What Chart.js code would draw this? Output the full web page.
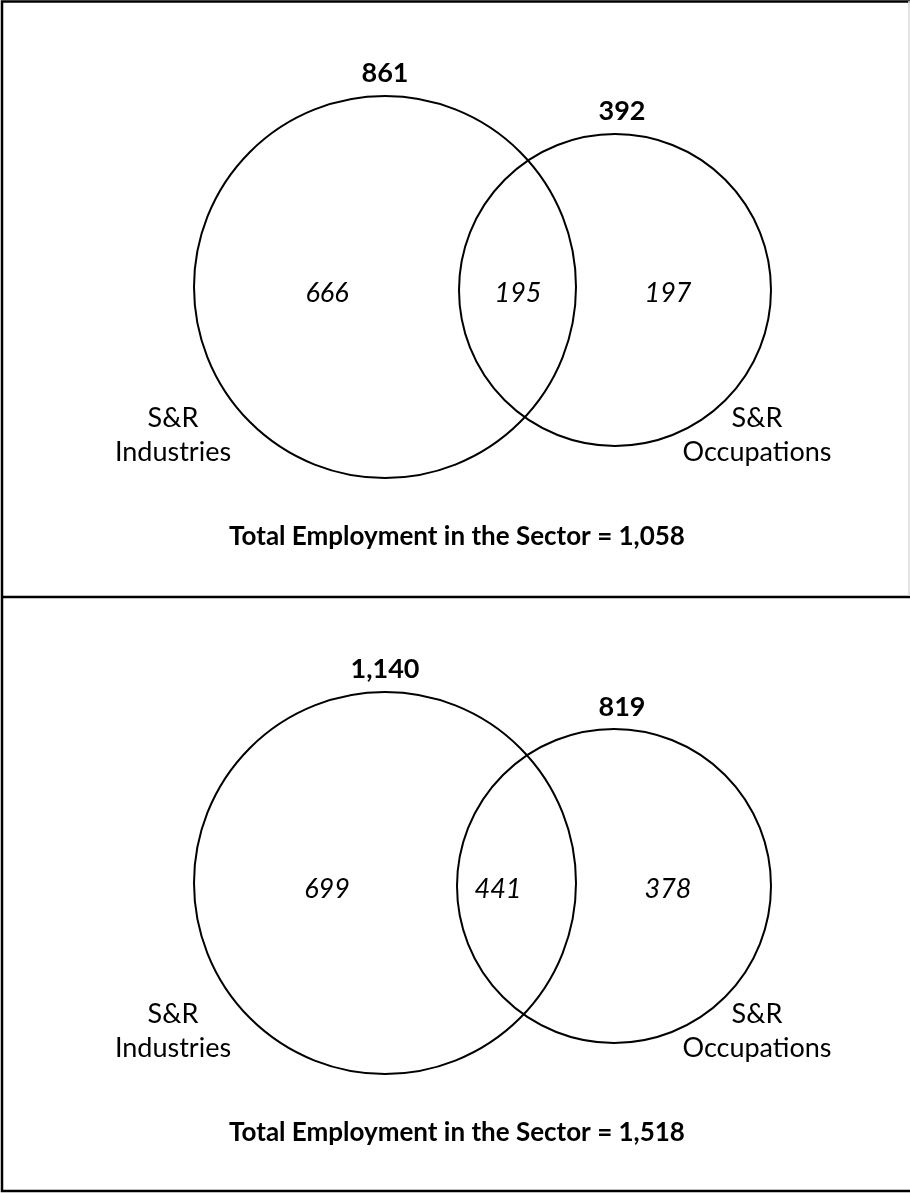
<!DOCTYPE html>
<html>
<head>
<meta charset="utf-8">
<script src="https://cdn.jsdelivr.net/npm/chart.js@4.4.0/dist/chart.umd.min.js"></script>
<style>
    html, body { margin: 0; padding: 0; background: #fff; }
    canvas { display: block; }
</style>
</head>
<body>
<canvas id="venn" width="910" height="1193"></canvas>
<script>
// values (top, bottom)
const industriesTotal = [861, 1140];
const occupationsTotal = [392, 819];
const industriesOnly = [666, 699];
const overlap = [195, 441];
const occupationsOnly = [197, 378];
const sectorTotal = [1058, 1518];
const setNames = [['S&R', 'Industries'], ['S&R', 'Occupations']];

// layout (page pixels, inside each panel)
const panelTop = [0, 596];
const bigCircle = { x: 385, y: 287, r: 191 };
const smallCircle = [{ x: 615, y: 290, r: 156 }, { x: 614, y: 290, r: 157 }];
const overlapX = [518, 498];

const fmt = n => n.toLocaleString('en-US');
const FONT = 'Lato, "Open Sans", sans-serif';

const circles = [];
for (let i = 0; i < panelTop.length; i++) {
    circles.push({ x: bigCircle.x, y: bigCircle.y + panelTop[i], r: bigCircle.r });
    circles.push({ x: smallCircle[i].x, y: smallCircle[i].y + panelTop[i], r: smallCircle[i].r });
}

const textPlugin = {
    id: 'vennText',
    afterDatasetsDraw(chart) {
        const ctx = chart.ctx;
        const sx = chart.scales.x, sy = chart.scales.y;
        const put = (txt, x, y, font) => {
            ctx.font = font;
            ctx.fillText(txt, sx.getPixelForValue(x), sy.getPixelForValue(y));
        };
        ctx.save();
        ctx.fillStyle = '#000';
        ctx.textAlign = 'center';
        ctx.textBaseline = 'middle';

        for (let i = 0; i < panelTop.length; i++) {
            const t = panelTop[i];
            put(fmt(industriesTotal[i]), 385, t + 73, 'bold 27px ' + FONT);
            put(fmt(occupationsTotal[i]), 622, t + 111, 'bold 27px ' + FONT);

            put(fmt(industriesOnly[i]), 327, t + 293, 'italic 27px ' + FONT);
            put(fmt(overlap[i]), overlapX[i], t + 293, 'italic 27px ' + FONT);
            put(fmt(occupationsOnly[i]), 668, t + 293, 'italic 27px ' + FONT);

            put(setNames[0][0], 173, t + 418, '27px ' + FONT);
            put(setNames[0][1], 173, t + 452, '27px ' + FONT);
            put(setNames[1][0], 757, t + 418, '27px ' + FONT);
            put(setNames[1][1], 757, t + 452, '27px ' + FONT);

            put('Total Employment in the Sector = ' + fmt(sectorTotal[i]), 457, t + 537, 'bold 26px ' + FONT);
        }

        // frame
        ctx.strokeStyle = '#000';
        ctx.lineWidth = 2.5;
        ctx.beginPath();
        ctx.moveTo(910, 1.5); ctx.lineTo(2, 1.5); ctx.lineTo(2, 1191);ctx.lineTo(910, 1191);
        ctx.moveTo(2, 597); ctx.lineTo(910, 597);
        ctx.stroke();
        ctx.strokeStyle = '#d9d9d9';
        ctx.lineWidth = 1.5;
        ctx.beginPath();
        ctx.moveTo(909, 1); ctx.lineTo(909, 596);
        ctx.stroke();
        ctx.restore();
    }
};

new Chart(document.getElementById('venn'), {
    type: 'bubble',
    data: {
        datasets: [{
            data: circles,
            backgroundColor: 'rgba(0,0,0,0)',
            borderColor: '#000',
            borderWidth: 2,
            hoverRadius: 0,
            hoverBorderWidth: 2
        }]
    },
    options: {
        responsive: false,
        animation: false,
        devicePixelRatio: 1,
        layout: { padding: 0, autoPadding: false },
        events: [],
        clip: false,
        plugins: { legend: { display: false }, tooltip: { enabled: false } },
        scales: {
            x: { type: 'linear', min: 0, max: 910, display: false },
            y: { type: 'linear', min: 0, max: 1193, reverse: true, display: false }
        }
    },
    plugins: [textPlugin]
});
</script>
</body>
</html>
